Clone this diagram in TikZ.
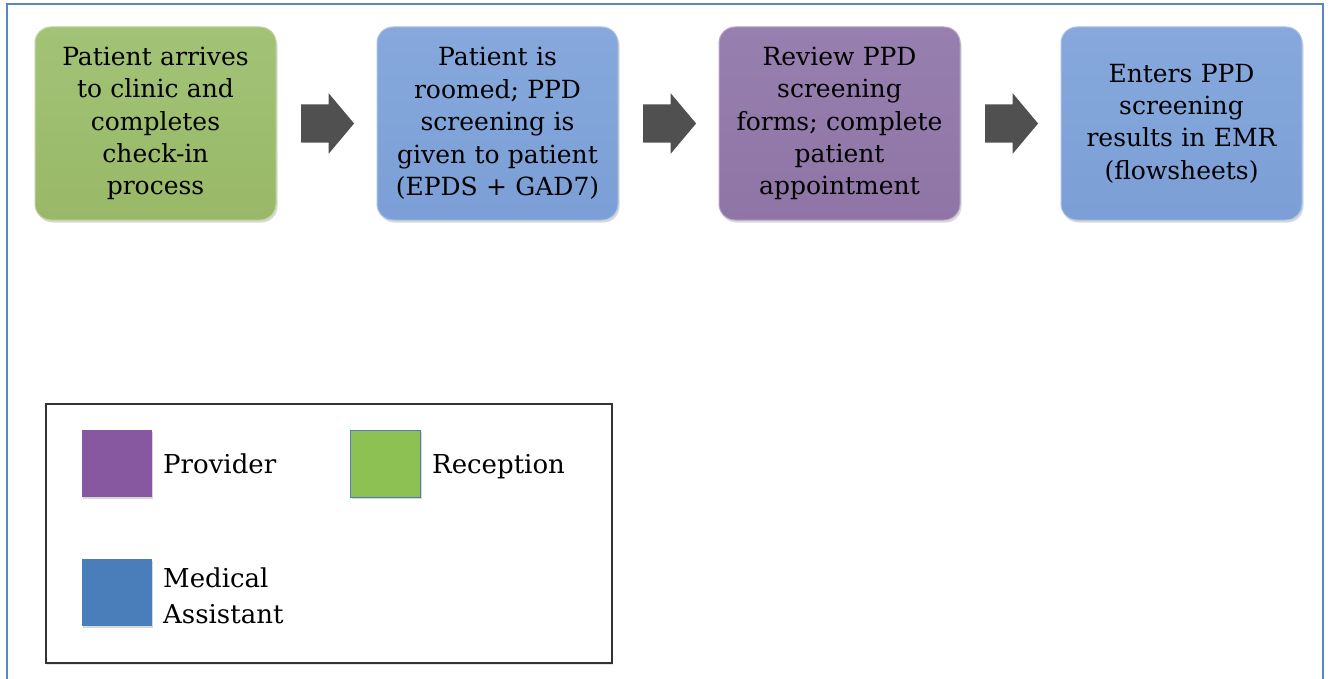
\documentclass[tikz,border=0pt]{standalone}
\usepackage{fontspec}
\setmainfont{DejaVu Serif}
\usetikzlibrary{shapes.arrows,shadows,calc}
\definecolor{frameblue}{HTML}{5A87C4}
\definecolor{greenT}{HTML}{A2C276}
\definecolor{greenB}{HTML}{99B968}
\definecolor{blueT}{HTML}{86A8DC}
\definecolor{blueB}{HTML}{7B9FD6}
\definecolor{purpT}{HTML}{977FAF}
\definecolor{purpB}{HTML}{8E75A6}
\definecolor{arrowgray}{HTML}{505050}
\definecolor{legpurple}{HTML}{8757A0}
\definecolor{leggreen}{HTML}{8EC153}
\definecolor{legblue}{HTML}{4A7EBB}
\tikzset{
  stepbox/.style={rectangle, rounded corners=16pt, minimum width=241pt, minimum height=193pt,
    text width=232pt, align=center, inner sep=0pt, line width=1pt,
    font=\fontsize{25}{32.4}\selectfont,
    drop shadow={shadow xshift=1.5pt, shadow yshift=-2.5pt, opacity=0.3}},
  greenbox/.style={stepbox, top color=greenT, bottom color=greenB, draw=greenT!70!white},
  bluebox/.style={stepbox, top color=blueT, bottom color=blueB, draw=blueT!70!white},
  purplebox/.style={stepbox, top color=purpT, bottom color=purpB, draw=purpT!70!white},
  blockarrow/.style={single arrow, fill=arrowgray, draw=none, inner sep=0pt,
    minimum height=53pt, single arrow head extend=11pt, xshift=-7pt,
    single arrow tip angle=100, single arrow head indent=0pt},
  legsq/.style={rectangle, minimum width=70pt, minimum height=67pt, inner sep=0pt,
    drop shadow={shadow xshift=1pt, shadow yshift=-2pt, opacity=0.3}},
  legtext/.style={anchor=base west, inner sep=0pt, align=left, font=\fontsize{26}{36}\selectfont}
}
\newcommand{\arrowstrut}{\vrule width 0pt height 19pt depth 19pt}
\begin{document}
\begin{tikzpicture}[x=1pt,y=-1pt]
\useasboundingbox (0,0) rectangle (1330,679);
\fill[white] (0,0) rectangle (1330,679);
% frame
\draw[frameblue, line width=1.5pt] (7,679) -- (7,4) -- (1323,4) -- (1323,679);
% process boxes
\node[greenbox]  (b1) at (155.5,123.5) {Patient arrives\\to clinic and\\completes\\check-in\\process};
\node[bluebox]   (b2) at (497.5,123.5) {Patient is\\roomed; PPD\\screening is\\given to patient\\(EPDS + GAD7)};
\node[purplebox] (b3) at (839.5,123.5) {Review PPD\\screening\\forms; complete\\patient\\appointment};
\node[bluebox]   (b4) at (1181.5,123.5) {Enters PPD\\screening\\results in EMR\\(flowsheets)};
% block arrows
\node[blockarrow] (a1) at ($(b1.east)!0.5!(b2.west)$) {\arrowstrut};
\node[blockarrow] (a2) at ($(b2.east)!0.5!(b3.west)$) {\arrowstrut};
\node[blockarrow] (a3) at ($(b3.east)!0.5!(b4.west)$) {\arrowstrut};
% legend
\node[draw=black!80, line width=1.2pt, rectangle, minimum width=566pt, minimum height=259pt,
  inner sep=0pt, fill=white, drop shadow={shadow xshift=1pt, shadow yshift=-2pt, opacity=0.2}]
  (leg) at (329,533.5) {};
\node[legsq, fill=legpurple] (sqp) at (117,463.5) {};
\node[legsq, fill=leggreen, draw=legblue, line width=0.8pt] (sqg) at (385.5,463.5) {};
\node[legsq, fill=legblue] (sqb) at (117,592) {};
\node[legtext] (tp) at (163,473) {Provider};
\node[legtext] (tg) at (432,473) {Reception};
\node[legtext] (tb) at (163,623) {Medical\\Assistant};
\end{tikzpicture}
\end{document}
